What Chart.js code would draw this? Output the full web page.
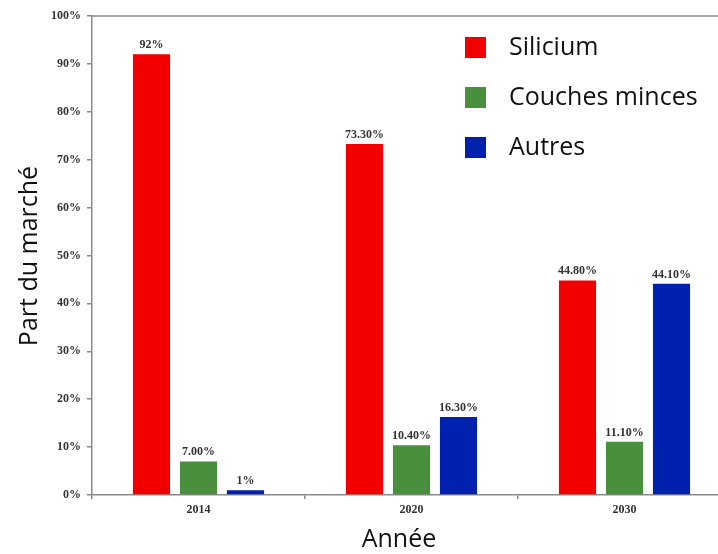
<!DOCTYPE html>
<html>
<head>
<meta charset="utf-8">
<script src="https://cdn.jsdelivr.net/npm/chart.js@4"></script>
<style>
html,body{margin:0;padding:0;background:#fff;overflow:hidden;width:718px;height:554px;}
#wrap{width:731px;height:554px;}
</style>
</head>
<body>
<div id="wrap"><canvas id="c" width="731" height="554"></canvas></div>
<script>
const categories = ["2014", "2020", "2030"];
const seriesNames = ["Silicium", "Couches minces", "Autres"];
const silicium = [92, 73.3, 44.8];
const couchesMinces = [7.0, 10.4, 11.1];
const autres = [1, 16.3, 44.1];
const siliciumLabels = ["92%", "73.30%", "44.80%"];
const couchesLabels = ["7.00%", "10.40%", "11.10%"];
const autresLabels = ["1%", "16.30%", "44.10%"];
const yTicks = [0, 10, 20, 30, 40, 50, 60, 70, 80, 90, 100];
const colors = ["#f20000", "#4a8f3e", "#0021ad"];

const labelPlugin = {
  id: 'valueLabels',
  afterDatasetsDraw(chart) {
    const ctx = chart.ctx;
    ctx.save();
    ctx.font = 'bold 12px "Liberation Serif", "Times New Roman", serif';
    ctx.fillStyle = '#333';
    ctx.textAlign = 'center';
    ctx.textBaseline = 'alphabetic';
    chart.data.datasets.forEach((ds, i) => {
      const meta = chart.getDatasetMeta(i);
      meta.data.forEach((bar, j) => {
        ctx.fillText(ds.valueLabels[j], bar.x, bar.y - 6);
      });
    });
    ctx.restore();
  }
};

const decorPlugin = {
  id: 'decor',
  afterDraw(chart) {
    const ctx = chart.ctx;
    const a = chart.chartArea;
    ctx.save();
    // top border
    ctx.strokeStyle = '#8a8a8a';
    ctx.lineWidth = 1.5;
    ctx.beginPath();
    ctx.moveTo(a.left, a.top);
    ctx.lineTo(a.right, a.top);
    ctx.stroke();
    // axis titles
    ctx.fillStyle = '#111';
    ctx.font = '25px "Open Sans", sans-serif';
    ctx.textAlign = 'center';
    ctx.textBaseline = 'middle';
    ctx.fillText('Année', 399, 540);
    ctx.save();
    ctx.translate(30, 256);
    ctx.rotate(-Math.PI / 2);
    ctx.fillText('Part du marché', 0, 0);
    ctx.restore();
    // legend
    const ys = [47, 97, 147];
    ctx.textAlign = 'left';
    chart.data.datasets.forEach((ds, i) => {
      ctx.fillStyle = ds.backgroundColor;
      ctx.fillRect(465, ys[i] - 10, 21, 21);
      ctx.fillStyle = '#111';
      ctx.fillText(ds.label, 509, ys[i] + 1);
    });
    ctx.restore();
  }
};

new Chart(document.getElementById('c'), {
  type: 'bar',
  data: {
    labels: categories,
    datasets: [
      { label: seriesNames[0], data: silicium, valueLabels: siliciumLabels, backgroundColor: colors[0] },
      { label: seriesNames[1], data: couchesMinces, valueLabels: couchesLabels, backgroundColor: colors[1] },
      { label: seriesNames[2], data: autres, valueLabels: autresLabels, backgroundColor: colors[2] }
    ]
  },
  options: {
    responsive: false,
    animation: false,
    events: [],
    layout: { padding: { top: 16, left: 0, right: 0, bottom: 0 } },
    datasets: { bar: { categoryPercentage: 0.662, barPercentage: 0.79 } },
    plugins: { legend: { display: false }, tooltip: { enabled: false } },
    scales: {
      x: {
        grid: { display: true, drawOnChartArea: false, drawTicks: true, tickLength: 4, color: '#8a8a8a', lineWidth: 1.5, offset: true },
        border: { display: true, color: '#8a8a8a', width: 1.5 },
        ticks: { color: '#333', padding: 4, font: { family: '"Liberation Serif", "Times New Roman", serif', size: 12, weight: 'bold' } },
        afterFit(s) { s.height = 59; }
      },
      y: {
        min: 0, max: 100,
        afterBuildTicks(s) { s.ticks = yTicks.map(v => ({ value: v })); },
        grid: { display: true, drawOnChartArea: false, drawTicks: true, tickLength: 5, color: '#8a8a8a', lineWidth: 1.5 },
        border: { display: true, color: '#8a8a8a', width: 1.5 },
        ticks: { color: '#333', padding: 6, callback: v => v + '%', font: { family: '"Liberation Serif", "Times New Roman", serif', size: 12, weight: 'bold' } },
        afterFit(s) { s.width = 92; }
      }
    }
  },
  plugins: [labelPlugin, decorPlugin]
});
</script>
</body>
</html>
